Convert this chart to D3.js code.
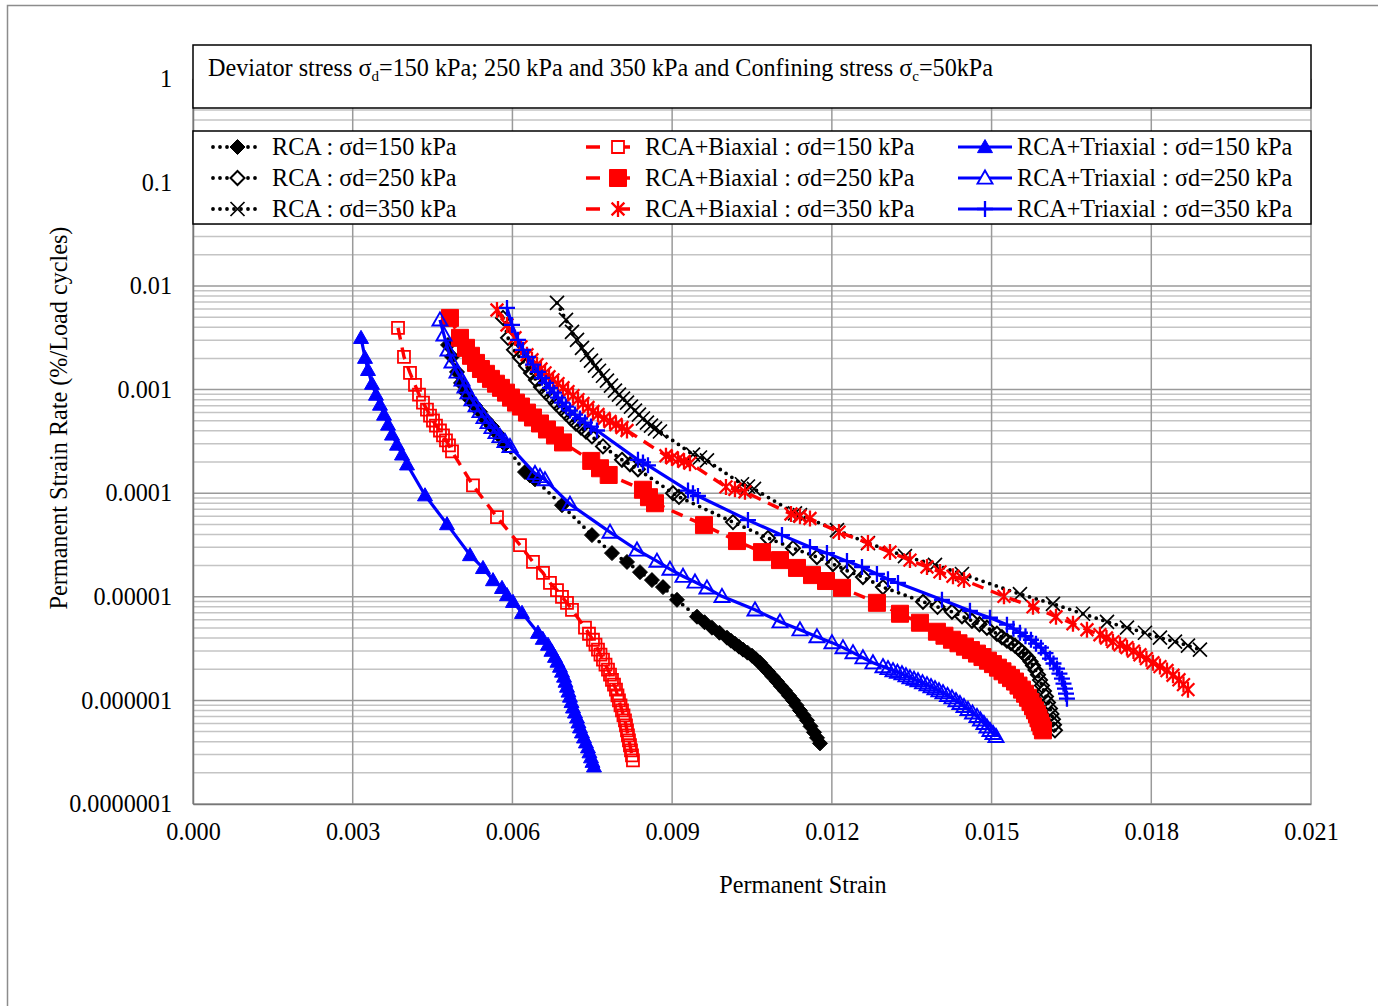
<!DOCTYPE html>
<html>
<head>
<meta charset="utf-8">
<script src="https://cdn.jsdelivr.net/npm/d3@7"></script>
<style>
  body { margin: 0; background: #fff; }
  text { font-family: "Liberation Serif", "Times New Roman", serif; fill: #000; }
</style>
</head>
<body>
<div id="chart"></div>
<script>
// Permanent strain rate vs permanent strain, log y axis
const width = 1378, height = 1006;
const FS = 24.2;

// ---- data: [permanent strain, strain rate (%/load cycle)] ----
const rca150 = [[0.00479,2.70e-3],[0.004865,2.07e-3],[0.004959,1.48e-3],[0.005034,1.16e-3],[0.005109,9.56e-4],[0.005203,8.0e-4],[0.005297,7.0e-4],[0.005391,6.1e-4],[0.005503,5.1e-4],[0.005616,4.4e-4],[0.005729,3.7e-4],[0.00586,2.95e-4],[0.006236,1.6e-4],[0.00633,1.48e-4],[0.006424,1.36e-4],[0.006931,7.66e-5],[0.007494,3.94e-5],[0.00787,2.64e-5],[0.008152,2.17e-5],[0.008396,1.73e-5],[0.008621,1.45e-5],[0.008828,1.24e-5],[0.009091,9.35e-6],[0.009467,6.42e-6],[0.009608,5.68e-6],[0.009748,5.03e-6],[0.009889,4.50e-6],[0.01003,4.03e-6],[0.010105,3.77e-6],[0.01018,3.53e-6],[0.010256,3.30e-6],[0.010331,3.09e-6],[0.010416,2.89e-6],[0.0105,2.70e-6],[0.010575,2.50e-6],[0.01065,2.31e-6],[0.010725,2.09e-6],[0.0108,1.90e-6],[0.010885,1.70e-6],[0.010969,1.52e-6],[0.011044,1.37e-6],[0.011119,1.24e-6],[0.011195,1.11e-6],[0.01127,1.0e-6],[0.011336,8.95e-7],[0.011401,8.0e-7],[0.011467,7.17e-7],[0.011533,6.42e-7],[0.011599,5.62e-7],[0.011664,4.92e-7],[0.011721,4.35e-7],[0.011777,3.85e-7]];
const rca250 = [[0.005823,4.92e-3],[0.005917,3.16e-3],[0.006029,2.42e-3],[0.006142,2.03e-3],[0.006255,1.70e-3],[0.006349,1.45e-3],[0.006442,1.24e-3],[0.006536,1.06e-3],[0.00663,9.35e-4],[0.006724,8.37e-4],[0.006818,7.33e-4],[0.006912,6.56e-4],[0.007006,5.87e-4],[0.0071,5.26e-4],[0.007194,4.71e-4],[0.007288,4.31e-4],[0.007382,3.94e-4],[0.007494,3.53e-4],[0.007701,2.83e-4],[0.008058,2.1e-4],[0.008208,1.90e-4],[0.008358,1.7e-4],[0.009016,1.0e-4],[0.009128,9.2e-5],[0.010143,5.26e-5],[0.0108,3.69e-5],[0.01127,2.95e-5],[0.01172,2.42e-5],[0.012021,2.07e-5],[0.012303,1.77e-5],[0.012584,1.55e-5],[0.01296,1.24e-5],[0.013712,8.95e-6],[0.013984,8.0e-6],[0.014256,7.17e-6],[0.014444,6.49e-6],[0.014632,5.87e-6],[0.014773,5.43e-6],[0.014913,5.03e-6],[0.015101,4.40e-6],[0.015195,4.07e-6],[0.015289,3.77e-6],[0.015365,3.57e-6],[0.01544,3.38e-6],[0.015506,3.16e-6],[0.015571,2.95e-6],[0.015628,2.76e-6],[0.015684,2.58e-6],[0.015731,2.37e-6],[0.015778,2.17e-6],[0.015825,1.96e-6],[0.015872,1.77e-6],[0.01591,1.57e-6],[0.015947,1.39e-6],[0.015985,1.23e-6],[0.016022,1.09e-6],[0.01606,9.55e-7],[0.016097,8.37e-7],[0.016125,7.41e-7],[0.016153,6.56e-7],[0.016172,5.81e-7],[0.016191,5.14e-7]];
const rca350 = [[0.006837,6.86e-3],[0.007006,4.71e-3],[0.007119,3.61e-3],[0.007213,3.02e-3],[0.007307,2.53e-3],[0.0074,2.17e-3],[0.007476,1.90e-3],[0.007551,1.70e-3],[0.007626,1.52e-3],[0.007701,1.36e-3],[0.007776,1.22e-3],[0.007851,1.09e-3],[0.007926,9.78e-4],[0.008001,8.95e-4],[0.008077,8.19e-4],[0.008152,7.49e-4],[0.008227,6.86e-4],[0.008302,6.28e-4],[0.008377,5.74e-4],[0.008452,5.26e-4],[0.008527,4.81e-4],[0.008603,4.50e-4],[0.008678,4.21e-4],[0.008771,3.94e-4],[0.009392,2.36e-4],[0.009523,2.21e-4],[0.009654,2.07e-4],[0.010312,1.22e-4],[0.010424,1.16e-4],[0.010537,1.10e-4],[0.011307,6.4e-5],[0.011401,6.14e-5],[0.012096,4.40e-5],[0.012678,3.30e-5],[0.013373,2.47e-5],[0.013937,2.03e-5],[0.014444,1.66e-5],[0.015533,1.06e-5],[0.016153,8.56e-6],[0.016717,6.86e-6],[0.017168,5.74e-6],[0.017543,5.03e-6],[0.017881,4.50e-6],[0.018163,4.03e-6],[0.018445,3.69e-6],[0.018689,3.38e-6],[0.018914,3.09e-6]];
const bi150 = [[0.003851,3.94e-3],[0.003963,2.07e-3],[0.004076,1.45e-3],[0.00417,1.11e-3],[0.004245,8.95e-4],[0.00432,7.49e-4],[0.004395,6.42e-4],[0.004452,5.62e-4],[0.004508,5.03e-4],[0.004564,4.50e-4],[0.004639,4.03e-4],[0.004696,3.61e-4],[0.004752,3.23e-4],[0.004808,2.89e-4],[0.004865,2.53e-4],[0.005259,1.19e-4],[0.00571,5.87e-5],[0.006142,3.16e-5],[0.006386,2.17e-5],[0.006574,1.70e-5],[0.006705,1.36e-5],[0.006837,1.16e-5],[0.006931,1.0e-5],[0.007025,8.75e-6],[0.007119,7.49e-6],[0.007363,5.03e-6],[0.007438,4.40e-6],[0.007513,3.85e-6],[0.00756,3.45e-6],[0.007607,3.09e-6],[0.007654,2.76e-6],[0.007701,2.47e-6],[0.007748,2.21e-6],[0.007795,1.98e-6],[0.007833,1.77e-6],[0.00787,1.58e-6],[0.007908,1.42e-6],[0.007945,1.27e-6],[0.007973,1.12e-6],[0.008001,1.0e-6],[0.00803,8.95e-7],[0.008058,8.0e-7],[0.008086,7.17e-7],[0.008114,6.42e-7],[0.008133,5.74e-7],[0.008152,5.14e-7],[0.00817,4.60e-7],[0.008189,4.12e-7],[0.008208,3.69e-7],[0.008227,3.30e-7],[0.008246,2.95e-7],[0.008264,2.64e-7]];
const bi250 = [[0.004827,4.92e-3],[0.005015,3.16e-3],[0.005128,2.53e-3],[0.005222,2.12e-3],[0.005316,1.81e-3],[0.005409,1.58e-3],[0.005503,1.42e-3],[0.005597,1.27e-3],[0.005691,1.14e-3],[0.005785,1.04e-3],[0.005879,9.35e-4],[0.005973,8.37e-4],[0.006067,7.49e-4],[0.006161,6.86e-4],[0.006273,6.0e-4],[0.006386,5.38e-4],[0.006518,4.71e-4],[0.006649,4.12e-4],[0.006799,3.61e-4],[0.00695,3.09e-4],[0.00748,2.05e-4],[0.007645,1.74e-4],[0.007808,1.5e-4],[0.008452,1.08e-4],[0.008565,9.15e-5],[0.008678,8.0e-5],[0.009598,4.92e-5],[0.010218,3.45e-5],[0.010687,2.70e-5],[0.011026,2.26e-5],[0.011345,1.90e-5],[0.011627,1.62e-5],[0.01189,1.42e-5],[0.01219,1.22e-5],[0.012847,8.75e-6],[0.01328,6.86e-6],[0.013655,5.62e-6],[0.013974,4.60e-6],[0.014115,4.21e-6],[0.014256,3.85e-6],[0.014378,3.56e-6],[0.0145,3.30e-6],[0.014613,3.06e-6],[0.014726,2.83e-6],[0.014829,2.62e-6],[0.014932,2.42e-6],[0.015026,2.24e-6],[0.01512,2.07e-6],[0.015205,1.91e-6],[0.015289,1.77e-6],[0.015365,1.64e-6],[0.01544,1.52e-6],[0.015506,1.39e-6],[0.015571,1.27e-6],[0.015628,1.16e-6],[0.015684,1.06e-6],[0.015731,9.63e-7],[0.015778,8.75e-7],[0.015816,8.01e-7],[0.015853,7.33e-7],[0.015881,6.71e-7],[0.015909,6.14e-7],[0.015937,5.62e-7],[0.015965,5.14e-7]];
const bi350 = [[0.00571,5.87e-3],[0.005898,4.21e-3],[0.006048,3.16e-3],[0.006161,2.58e-3],[0.006273,2.17e-3],[0.006367,1.94e-3],[0.006461,1.74e-3],[0.006536,1.58e-3],[0.006612,1.45e-3],[0.006687,1.33e-3],[0.006762,1.24e-3],[0.006856,1.14e-3],[0.00695,1.04e-3],[0.007044,9.56e-4],[0.007138,8.75e-4],[0.007231,8.0e-4],[0.007325,7.33e-4],[0.007419,6.71e-4],[0.007513,6.14e-4],[0.007607,5.74e-4],[0.00772,5.26e-4],[0.007833,4.92e-4],[0.007945,4.60e-4],[0.008058,4.31e-4],[0.008152,4.03e-4],[0.008884,2.3e-4],[0.008997,2.2e-4],[0.00911,2.12e-4],[0.009223,2.03e-4],[0.009335,1.95e-4],[0.010011,1.15e-4],[0.01018,1.09e-4],[0.010368,1.03e-4],[0.011232,6.3e-5],[0.011401,6.0e-5],[0.011589,5.7e-5],[0.012134,4.21e-5],[0.012678,3.30e-5],[0.013092,2.70e-5],[0.013467,2.26e-5],[0.013787,1.94e-5],[0.014031,1.74e-5],[0.014275,1.58e-5],[0.014482,1.45e-5],[0.015233,1.01e-5],[0.015778,8.0e-6],[0.01621,6.42e-6],[0.016529,5.50e-6],[0.016792,4.81e-6],[0.017036,4.31e-6],[0.017158,4.0e-6],[0.01728,3.69e-6],[0.017412,3.45e-6],[0.017543,3.23e-6],[0.017665,2.99e-6],[0.017787,2.76e-6],[0.017909,2.53e-6],[0.018031,2.31e-6],[0.018163,2.12e-6],[0.018295,1.94e-6],[0.018408,1.75e-6],[0.01852,1.58e-6],[0.018605,1.42e-6],[0.018689,1.27e-6]];
const tri150 = [[0.003156,3.16e-3],[0.003231,2.03e-3],[0.003287,1.55e-3],[0.003362,1.14e-3],[0.003437,8.95e-4],[0.003512,7.17e-4],[0.003588,5.74e-4],[0.003663,4.60e-4],[0.003738,3.69e-4],[0.003832,2.95e-4],[0.003926,2.37e-4],[0.00402,1.90e-4],[0.004358,9.56e-5],[0.004771,5.03e-5],[0.005203,2.53e-5],[0.005447,1.90e-5],[0.005635,1.45e-5],[0.005804,1.22e-5],[0.005898,1.04e-5],[0.006011,8.95e-6],[0.00618,7.01e-6],[0.00648,4.50e-6],[0.00657,3.94e-6],[0.006668,3.45e-6],[0.006733,3.02e-6],[0.006799,2.64e-6],[0.006846,2.37e-6],[0.006893,2.12e-6],[0.006931,1.90e-6],[0.006969,1.70e-6],[0.006997,1.52e-6],[0.007025,1.36e-6],[0.007053,1.22e-6],[0.007081,1.09e-6],[0.00711,9.66e-7],[0.007138,8.56e-7],[0.007175,7.66e-7],[0.007213,6.86e-7],[0.007241,6.14e-7],[0.007269,5.50e-7],[0.007306,4.92e-7],[0.007344,4.40e-7],[0.007381,3.94e-7],[0.007419,3.53e-7],[0.007447,3.16e-7],[0.007476,2.83e-7],[0.007504,2.56e-7],[0.007532,2.31e-7]];
const tri250 = [[0.004639,4.71e-3],[0.004714,3.38e-3],[0.00479,2.42e-3],[0.004865,1.85e-3],[0.004959,1.48e-3],[0.005053,1.24e-3],[0.005109,1.06e-3],[0.005165,9.35e-4],[0.00524,8.0e-4],[0.005316,7.01e-4],[0.005391,6.14e-4],[0.005466,5.38e-4],[0.005541,4.81e-4],[0.005616,4.31e-4],[0.005691,3.85e-4],[0.005766,3.53e-4],[0.00586,3.16e-4],[0.005954,2.83e-4],[0.006424,1.55e-4],[0.006518,1.45e-4],[0.006611,1.35e-4],[0.007081,7.83e-5],[0.007833,4.21e-5],[0.00834,2.83e-5],[0.008715,2.21e-5],[0.008959,1.85e-5],[0.009204,1.58e-5],[0.009429,1.39e-5],[0.009654,1.22e-5],[0.009936,1.01e-5],[0.010556,7.49e-6],[0.011026,5.74e-6],[0.011401,4.81e-6],[0.01172,4.12e-6],[0.012002,3.61e-6],[0.012209,3.23e-6],[0.012397,2.89e-6],[0.012584,2.58e-6],[0.012772,2.31e-6],[0.01296,2.12e-6],[0.013054,2.03e-6],[0.013148,1.94e-6],[0.013232,1.87e-6],[0.013317,1.81e-6],[0.013392,1.73e-6],[0.013467,1.66e-6],[0.013543,1.60e-6],[0.013618,1.55e-6],[0.013703,1.48e-6],[0.013787,1.42e-6],[0.013862,1.36e-6],[0.013937,1.30e-6],[0.014012,1.24e-6],[0.014087,1.19e-6],[0.014172,1.12e-6],[0.014256,1.06e-6],[0.014331,9.96e-7],[0.014406,9.35e-7],[0.014482,8.75e-7],[0.014557,8.19e-7],[0.014642,7.58e-7],[0.014726,7.01e-7],[0.014792,6.49e-7],[0.014857,6.0e-7],[0.014914,5.55e-7],[0.01497,5.14e-7],[0.015027,4.81e-7],[0.015083,4.50e-7]];
const tri350 = [[0.005898,6.14e-3],[0.005992,4.21e-3],[0.006104,3.02e-3],[0.006198,2.42e-3],[0.006292,2.07e-3],[0.006386,1.74e-3],[0.00648,1.48e-3],[0.006555,1.30e-3],[0.00663,1.16e-3],[0.006705,1.04e-3],[0.006781,9.35e-4],[0.006856,8.37e-4],[0.006931,7.49e-4],[0.007006,6.86e-4],[0.007081,6.28e-4],[0.007175,5.74e-4],[0.007269,5.26e-4],[0.007363,4.81e-4],[0.007476,4.40e-4],[0.007588,4.03e-4],[0.008358,2.1e-4],[0.008452,1.98e-4],[0.008546,1.86e-4],[0.009298,1.06e-4],[0.009391,1.0e-4],[0.009485,9.4e-5],[0.010424,5.50e-5],[0.011063,3.94e-5],[0.011589,3.02e-5],[0.011908,2.64e-5],[0.012284,2.21e-5],[0.012566,1.94e-5],[0.012847,1.66e-5],[0.013054,1.48e-5],[0.013242,1.36e-5],[0.014068,9.35e-6],[0.014594,7.33e-6],[0.01497,6.28e-6],[0.015289,5.38e-6],[0.015411,4.92e-6],[0.015533,4.50e-6],[0.015637,4.16e-6],[0.01574,3.85e-6],[0.015834,3.53e-6],[0.015928,3.23e-6],[0.016013,2.86e-6],[0.016097,2.53e-6],[0.016163,2.27e-6],[0.016228,2.03e-6],[0.016275,1.81e-6],[0.016322,1.62e-6],[0.016351,1.45e-6],[0.016379,1.30e-6],[0.016398,1.16e-6],[0.016416,1.04e-6]];

const xTicks = [0, 0.003, 0.006, 0.009, 0.012, 0.015, 0.018, 0.021];
const yTicks = [1e-7, 1e-6, 1e-5, 1e-4, 1e-3, 1e-2, 1e-1, 1];
const yTickLabels = ["0.0000001", "0.000001", "0.00001", "0.0001", "0.001", "0.01", "0.1", "1"];
const seriesNames = [
  "RCA : σd=150 kPa", "RCA : σd=250 kPa", "RCA : σd=350 kPa",
  "RCA+Biaxial : σd=150 kPa", "RCA+Biaxial : σd=250 kPa", "RCA+Biaxial : σd=350 kPa",
  "RCA+Triaxial : σd=150 kPa", "RCA+Triaxial : σd=250 kPa", "RCA+Triaxial : σd=350 kPa"
];
const seriesData = [rca150, rca250, rca350, bi150, bi250, bi350, tri150, tri250, tri350];

// styles per series (line + marker)
const lineStyles = {
  dot:  { color: "#000", width: 3.8, dash: "0 7", cap: "round" },
  dash: { color: "#ff0000", width: 3.4, dash: "12 8", cap: "butt" },
  solid:{ color: "#0000ff", width: 3.2, dash: null, cap: "butt" }
};
const styles = [
  { line: "dot",   shape: "diamond",  size: 15, fill: "#000", stroke: "#000", sw: 1 },
  { line: "dot",   shape: "diamond",  size: 14, fill: "none", stroke: "#000", sw: 2 },
  { line: "dot",   shape: "x",        size: 14, fill: "none", stroke: "#000", sw: 1.7 },
  { line: "dash",  shape: "square",   size: 12, fill: "none", stroke: "#ff0000", sw: 1.8 },
  { line: "dash",  shape: "square",   size: 17, fill: "#ff0000", stroke: "#ff0000", sw: 1 },
  { line: "dash",  shape: "star",     size: 16, fill: "none", stroke: "#ff0000", sw: 2.3 },
  { line: "solid", shape: "triangle", size: 15, fill: "#0000ff", stroke: "#0000ff", sw: 1 },
  { line: "solid", shape: "triangle", size: 15, fill: "none", stroke: "#0000ff", sw: 1.9 },
  { line: "solid", shape: "plus",     size: 16, fill: "none", stroke: "#0000ff", sw: 2.3 }
];

function markerPath(shape, s) {
  const h = s / 2;
  switch (shape) {
    case "diamond":  return `M0,${-h}L${h},0L0,${h}L${-h},0Z`;
    case "square":   return `M${-h},${-h}H${h}V${h}H${-h}Z`;
    case "triangle": return `M0,${-h}L${h},${h * 0.75}L${-h},${h * 0.75}Z`;
    case "x":        return `M${-h},${-h}L${h},${h}M${-h},${h}L${h},${-h}`;
    case "star":     return `M${-h*0.8},${-h*0.8}L${h*0.8},${h*0.8}M${-h*0.8},${h*0.8}L${h*0.8},${-h*0.8}M0,${-h}V${h}`;
    case "plus":     return `M${-h},0H${h}M0,${-h}V${h}`;
  }
}

const svg = d3.select("#chart").append("svg").attr("width", width).attr("height", height);

// outer chart frame
svg.append("rect").attr("x", 7.5).attr("y", 5.5).attr("width", 1400).attr("height", 1100)
  .attr("fill", "#fff").attr("stroke", "#8c8c8c").attr("stroke-width", 1.5);

const x = d3.scaleLinear().domain([0, 0.021]).range([193, 1311]);
const y = d3.scaleLog().domain([1e-7, 1]).range([804, 78.8]);

// gridlines
const minor = [];
for (let e = -7; e < 0; e++) for (let k = 2; k <= 9; k++) minor.push(k * Math.pow(10, e));
const grid = svg.append("g");
grid.selectAll(".minor").data(minor).join("line")
  .attr("x1", 193).attr("x2", 1311)
  .attr("y1", d => y(d)).attr("y2", d => y(d))
  .attr("stroke", "#c4c4c4").attr("stroke-width", 1.5);
grid.selectAll(".major").data(yTicks).join("line")
  .attr("x1", 193).attr("x2", 1311)
  .attr("y1", d => y(d)).attr("y2", d => y(d))
  .attr("stroke", "#9a9a9a").attr("stroke-width", 1.5);
grid.selectAll(".vline").data(xTicks).join("line")
  .attr("x1", d => x(d)).attr("x2", d => x(d))
  .attr("y1", y(1)).attr("y2", 804)
  .attr("stroke", "#9a9a9a").attr("stroke-width", 1.5);

// axes
const xAxis = svg.append("g").attr("transform", "translate(0,804)")
  .call(d3.axisBottom(x).tickValues(xTicks).tickFormat(d3.format(".3f")).tickSize(0).tickPadding(19));
xAxis.select(".domain").attr("stroke", "#777").attr("stroke-width", 1.5);
xAxis.selectAll("text").attr("font-size", FS).attr("font-family", "Liberation Serif");

const yAxis = svg.append("g").attr("transform", "translate(193,0)")
  .call(d3.axisLeft(y).tickValues(yTicks).tickFormat((d, i) => yTickLabels[i]).tickSize(0).tickPadding(21));
yAxis.select(".domain").attr("stroke", "#777").attr("stroke-width", 1.5);
yAxis.selectAll("text").attr("font-size", FS).attr("font-family", "Liberation Serif");

// axis titles
svg.append("text").attr("x", 803).attr("y", 893).attr("text-anchor", "middle")
  .attr("font-size", FS).text("Permanent Strain");
svg.append("text").attr("transform", "translate(67,418) rotate(-90)").attr("text-anchor", "middle")
  .attr("font-size", FS).text("Permanent Strain Rate (%/Load cycles)");

// series
const line = d3.line().x(d => x(d[0])).y(d => y(d[1]));
const plot = svg.append("g");
seriesData.forEach((data, i) => {
  const st = styles[i], ls = lineStyles[st.line];
  const g = plot.append("g");
  g.append("path").attr("d", line(data)).attr("fill", "none")
    .attr("stroke", ls.color).attr("stroke-width", ls.width)
    .attr("stroke-dasharray", ls.dash).attr("stroke-linecap", ls.cap);
  g.selectAll(".m").data(data).join("path")
    .attr("transform", d => `translate(${x(d[0])},${y(d[1])})`)
    .attr("d", markerPath(st.shape, st.size))
    .attr("fill", st.fill).attr("stroke", st.stroke).attr("stroke-width", st.sw);
});

// title box
svg.append("rect").attr("x", 193).attr("y", 45).attr("width", 1118).attr("height", 63)
  .attr("fill", "#fff").attr("stroke", "#000").attr("stroke-width", 1.5);
const title = svg.append("text").attr("x", 208).attr("y", 76).attr("font-size", FS);
title.append("tspan").text("Deviator stress σ");
title.append("tspan").attr("font-size", 15).attr("dy", 5).text("d");
title.append("tspan").attr("dy", -5).text("=150 kPa; 250 kPa and 350 kPa and Confining stress σ");
title.append("tspan").attr("font-size", 15).attr("dy", 5).text("c");
title.append("tspan").attr("dy", -5).text("=50kPa");

// legend box
svg.append("rect").attr("x", 193).attr("y", 131).attr("width", 1118).attr("height", 93)
  .attr("fill", "#fff").attr("stroke", "#000").attr("stroke-width", 1.5);
const legCols = [{ x0: 213, x1: 262, text: 272 }, { x0: 586, x1: 630, text: 645 }, { x0: 958, x1: 1012, text: 1017 }];
const legRows = [147, 178, 209];
seriesNames.forEach((name, i) => {
  const c = legCols[Math.floor(i / 3)], r = legRows[i % 3];
  const st = styles[i], ls = lineStyles[st.line];
  const lg = svg.append("g");
  lg.append("line").attr("x1", c.x0).attr("x2", c.x1).attr("y1", r).attr("y2", r)
    .attr("stroke", ls.color).attr("stroke-width", ls.width)
    .attr("stroke-dasharray", st.line === "dash" ? "14 16" : ls.dash).attr("stroke-linecap", ls.cap);
  lg.append("path").attr("transform", `translate(${(c.x0 + c.x1) / 2 + (st.line === "dash" ? 10 : 0)},${r})`)
    .attr("d", markerPath(st.shape, st.size))
    .attr("fill", st.fill === "none" ? "#fff" : st.fill).attr("stroke", st.stroke).attr("stroke-width", st.sw);
  lg.append("text").attr("x", c.text).attr("y", r + 8).attr("font-size", FS).text(name);
});
</script>
</body>
</html>
